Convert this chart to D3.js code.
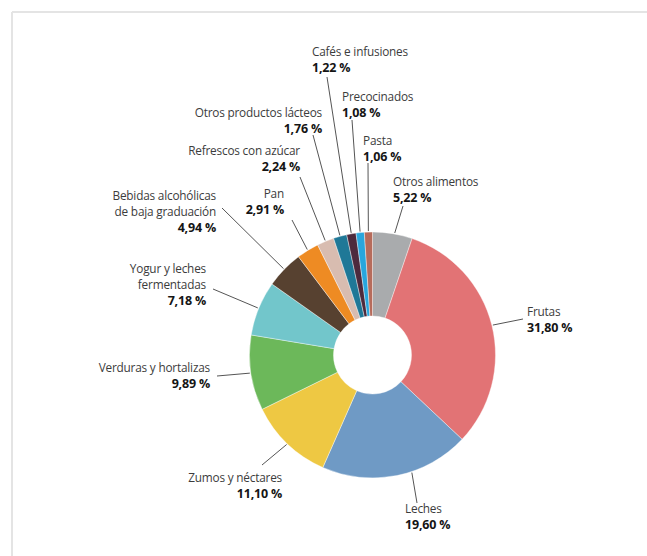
<!DOCTYPE html>
<html>

<head>
  <meta charset="utf-8">
  <title>Consumo por categorías</title>
  <script src="https://d3js.org/d3.v7.min.js"></script>

  <style>
    body,
    html {
      margin: 0;
      padding: 0;
      background-color: #ffffff;
    }

    .frame {
      stroke: #e4e4e4;
      stroke-width: 2;
    }

    .slice {
      stroke: #ffffff;
      stroke-width: 0.4;
    }

    .leader {
      stroke: #555555;
      stroke-width: 1;
      fill: none;
    }

    .name {
      font-family: "Open Sans", "DejaVu Sans", sans-serif;
      font-size: 11.8px;
      fill: #3c3c3c;
      letter-spacing: -0.2px;
    }

    .value {
      font-family: "Open Sans", "DejaVu Sans", sans-serif;
      font-size: 12.5px;
      font-weight: bold;
      fill: #151515;
      letter-spacing: -0.2px;
    }
  </style>
</head>

<body>
  <div id="chart"></div>

  <script>
    // categories, clockwise from 12 o'clock
    const categories = [
      "Otros alimentos", "Frutas", "Leches", "Zumos y néctares",
      "Verduras y hortalizas", "Yogur y leches fermentadas",
      "Bebidas alcohólicas de baja graduación", "Pan", "Refrescos con azúcar",
      "Otros productos lácteos", "Cafés e infusiones", "Precocinados", "Pasta"
    ]
    const shares = [5.22, 31.80, 19.60, 11.10, 9.89, 7.18, 4.94, 2.91, 2.24, 1.76, 1.22, 1.08, 1.06]
    const nameLines = [
      ["Otros alimentos"], ["Frutas"], ["Leches"], ["Zumos y néctares"],
      ["Verduras y hortalizas"], ["Yogur y leches", "fermentadas"],
      ["Bebidas alcohólicas", "de baja graduación"], ["Pan"], ["Refrescos con azúcar"],
      ["Otros productos lácteos"], ["Cafés e infusiones"], ["Precocinados"], ["Pasta"]
    ]
    const colors = [
      "#a9abad", "#e27375", "#6f9ac5", "#eec843", "#6cb85a", "#72c6cb",
      "#574130", "#ee8b23", "#d8bcb0", "#1f7897", "#4d2a3d", "#29a6dd", "#b66b5b"
    ]

    // label layout (first baseline, anchor) and where each leader starts
    const labelPos = [
      { x: 393, y: 186, anchor: "start" },
      { x: 527, y: 316, anchor: "start" },
      { x: 405, y: 513, anchor: "start" },
      { x: 282, y: 482, anchor: "end" },
      { x: 210, y: 372, anchor: "end" },
      { x: 206, y: 273, anchor: "end" },
      { x: 216, y: 200, anchor: "end" },
      { x: 284, y: 198, anchor: "end" },
      { x: 300, y: 155, anchor: "end" },
      { x: 322, y: 117, anchor: "end" },
      { x: 312, y: 56, anchor: "start" },
      { x: 342, y: 101, anchor: "start" },
      { x: 363, y: 145, anchor: "start" }
    ]
    const leaderStart = [
      [403, 206], [523, 319], [417, 503], [262, 465], [217, 376], [213, 289],
      [222, 208], [292, 220], [300, 177], [313, 135], [327, 77], [352, 120], [368, 163]
    ]
    // where along the slice (0..1) the leader touches the ring
    const leaderAt = [0.55, 0.5, 0.4, 0.5, 0.5, 0.5, 0.5, 0.5, 0.5, 0.5, 0.5, 0.5, 0.5]

    const W = 647,
      H = 556
    const center = { x: 372.5, y: 355 }
    const innerR = 39,
      outerR = 123,
      lineGap = 16

    const fmt = (v) => v.toFixed(2).replace('.', ',') + ' %'

    drawChart()

    function drawChart() {
      const svg = d3.select('#chart').append('svg')
        .attr('width', W)
        .attr('height', H)

      //Frame
      svg.append('line').attr('class', 'frame')
        .attr('x1', 12).attr('y1', 12).attr('x2', W).attr('y2', 12)
      svg.append('line').attr('class', 'frame')
        .attr('x1', 12).attr('y1', 12).attr('x2', 12).attr('y2', H)

      const chart = svg.append('g')
        .attr('transform', `translate(${center.x},${center.y})`)

      const pie = d3.pie()
        .sort(null)
        .value((d) => d)
      const slices = pie(shares)

      const arc = d3.arc()
        .innerRadius(innerR)
        .outerRadius(outerR)

      chart.selectAll('path.slice')
        .data(slices)
        .enter()
        .append('path')
        .attr('class', 'slice')
        .attr('d', arc)
        .attr('fill', (d, i) => colors[i])

      //Leader lines
      svg.selectAll('line.leader')
        .data(slices)
        .enter()
        .append('line')
        .attr('class', 'leader')
        .attr('x1', (d, i) => leaderStart[i][0])
        .attr('y1', (d, i) => leaderStart[i][1])
        .attr('x2', (d, i) => {
          const a = d.startAngle + leaderAt[i] * (d.endAngle - d.startAngle)
          return center.x + d3.pointRadial(a, outerR + 1)[0]
        })
        .attr('y2', (d, i) => {
          const a = d.startAngle + leaderAt[i] * (d.endAngle - d.startAngle)
          return center.y + d3.pointRadial(a, outerR + 1)[1]
        })

      //Labels
      const labels = svg.selectAll('g.label')
        .data(categories)
        .enter()
        .append('g')
        .attr('class', 'label')

      labels.each(function(d, i) {
        const g = d3.select(this)
        const p = labelPos[i]
        nameLines[i].forEach((t, k) => {
          g.append('text')
            .attr('class', 'name')
            .attr('x', p.x)
            .attr('y', p.y + k * lineGap)
            .attr('text-anchor', p.anchor)
            .text(t)
        })
        g.append('text')
          .attr('class', 'value')
          .attr('x', p.x)
          .attr('y', p.y + nameLines[i].length * lineGap)
          .attr('text-anchor', p.anchor)
          .text(fmt(shares[i]))
      })
    }
  </script>
</body>

</html>
